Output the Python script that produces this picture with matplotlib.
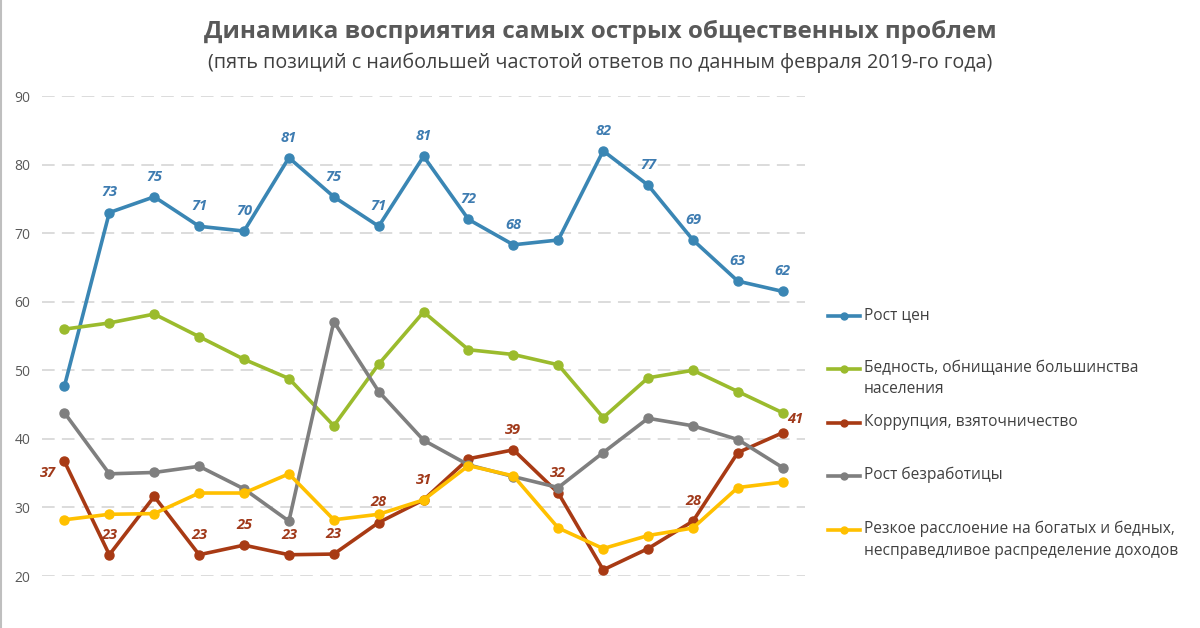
import matplotlib
matplotlib.use("Agg")
import matplotlib.pyplot as plt
from matplotlib.lines import Line2D

# values (17 survey waves, no x labels)
rost_cen = [47.7, 73, 75.3, 71, 70.3, 81, 75.3, 71, 81.2, 72, 68.3, 69, 82, 77, 69, 63, 61.5]
bednost = [56, 56.9, 58.2, 54.9, 51.6, 48.8, 41.9, 50.9, 58.5, 53, 52.3, 50.8, 43.1, 48.9, 50, 46.9, 43.8]
korrupcia = [36.7, 23.1, 31.6, 23.1, 24.5, 23.1, 23.2, 27.8, 31.1, 37.1, 38.4, 32.1, 20.9, 24, 28, 38, 40.9]
bezrabotica = [43.8, 34.9, 35.1, 36, 32.7, 28, 57.1, 46.9, 39.8, 36.2, 34.5, 32.9, 38, 43, 41.9, 39.9, 35.8]
rassloenie = [28.2, 29, 29.1, 32.1, 32.1, 34.9, 28.2, 29, 31.1, 36.1, 34.6, 27, 24, 25.9, 27, 32.9, 33.7]

# data labels shown on the chart (None = no label)
rost_cen_lbl = [None, '73', '75', '71', '70', '81', '75', '71', '81', '72', '68', None, '82', '77', '69', '63', '62']
korrupcia_lbl = ['37', '23', None, '23', '25', '23', '23', '28', '31', None, '39', '32', None, None, '28', None, '41']

names = ['Рост цен',
         'Бедность, обнищание большинства\nнаселения',
         'Коррупция, взяточничество',
         'Рост безработицы',
         'Резкое расслоение на богатых и бедных,\nнесправедливое распределение доходов']

colors = ['#3A86B4', '#9BBB2D', '#A83A14', '#7F7F7F', '#FFC000']
series = [rost_cen, bednost, korrupcia, bezrabotica, rassloenie]

plt.rcParams['font.family'] = ['Open Sans', 'DejaVu Sans']

fig = plt.figure(figsize=(12, 6.28), dpi=100)
ax = fig.add_axes([0.035, 1 - 576 / 628, 0.636, 480 / 628])

x = list(range(len(rost_cen)))
for vals, col in zip(series, colors):
    ax.plot(x, vals, color=col, lw=2.6, marker='o', ms=6.5, clip_on=False,
            solid_joinstyle='round')

for xi, (v, t) in enumerate(zip(rost_cen, rost_cen_lbl)):
    if t:
        ax.annotate(t, (xi, v), xytext=(0, 14.5), textcoords='offset points',
                    ha='center', va='center', color='#3E7CB1', fontsize=10.5,
                    style='italic', fontweight='bold')

for xi, (v, t) in enumerate(zip(korrupcia, korrupcia_lbl)):
    if t:
        off = (0, 14.5)
        if xi == 0:
            off = (-12, -8.5)
        elif xi == len(korrupcia) - 1:
            off = (9, 9.5)
        ax.annotate(t, (xi, v), xytext=off, textcoords='offset points',
                    ha='center', va='center', color='#A0391A', fontsize=10.5,
                    style='italic', fontweight='bold')

ax.set_xlim(-0.5, 16.5)
ax.set_ylim(20, 90)
ax.set_yticks(range(20, 91, 10))
ax.set_xticks([])
ax.yaxis.grid(True, color='#D9D9D9', lw=1.3, ls=(0, (7, 4)))
ax.set_axisbelow(True)
for s in ax.spines.values():
    s.set_visible(False)
ax.tick_params(axis='y', length=0, labelsize=10, labelcolor='#595959', pad=8.5)

# legend drawn by hand to match the uneven excel spacing
leg_y = [315.7, 369, 422.7, 475.7, 530]
for name, col, py in zip(names, colors, leg_y):
    fy = 1 - py / 628
    fig.add_artist(Line2D([828 / 1200, 860 / 1200], [fy, fy], color=col, lw=2.6))
    fig.add_artist(Line2D([844 / 1200], [fy], color=col, marker='o', ms=5))
    fig.text(864 / 1200, fy + 9 / 628, name, ha='left', va='top', fontsize=11.2,
             color='#404040', linespacing=1.45)

fig.text(0.5, 1 - 32 / 628, 'Динамика восприятия самых острых общественных проблем',
         ha='center', va='center', fontsize=17.5, fontweight='bold', color='#595959')
fig.text(0.5, 1 - 63 / 628,
         '(пять позиций с наибольшей частотой ответов по данным февраля 2019-го года)',
         ha='center', va='center', fontsize=14.2, color='#404040')

fig.add_artist(Line2D([0.001, 0.001], [0, 1], color='#BFBFBF', lw=1.5))

fig.savefig('out.png', dpi=100)
